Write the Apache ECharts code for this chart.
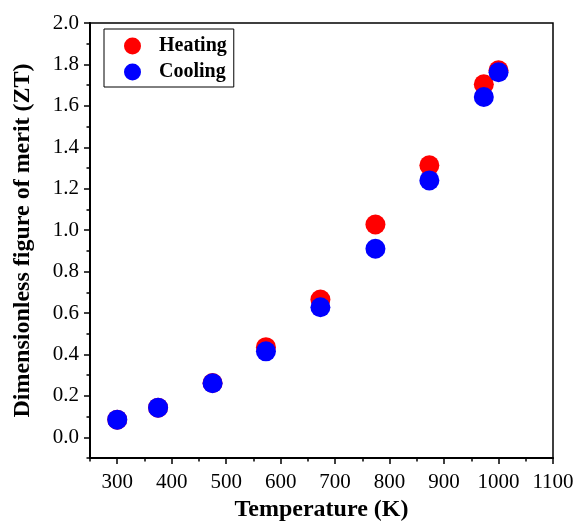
<!DOCTYPE html>
<html>
<head>
<meta charset="utf-8">
<script src="https://cdn.jsdelivr.net/npm/echarts@6/dist/echarts.min.js"></script>
<style>
  html, body { margin: 0; padding: 0; background: #fff; }
  #chartContainer { width: 578px; height: 521px; }
</style>
</head>
<body>
<div id="chartContainer"></div>
<script>
// temperatures (K) and ZT values
var heatingT = [300, 375, 475, 573, 673, 774, 873, 973, 1000];
var heatingZT = [0.085, 0.143, 0.262, 0.435, 0.665, 1.027, 1.313, 1.704, 1.772];
var coolingT = [300, 375, 475, 573, 673, 774, 873, 973, 1000];
var coolingZT = [0.085, 0.143, 0.261, 0.415, 0.628, 0.910, 1.240, 1.643, 1.762];

var xMajorTicks = [300, 400, 500, 600, 700, 800, 900, 1000, 1100];
var xMinorTicks = [250, 350, 450, 550, 650, 750, 850, 950, 1050];
var yMajorTicks = [0, 0.2, 0.4, 0.6, 0.8, 1.0, 1.2, 1.4, 1.6, 1.8, 2.0];
var yMinorTicks = [-0.1, 0.1, 0.3, 0.5, 0.7, 0.9, 1.1, 1.3, 1.5, 1.7, 1.9];

var font = 'Liberation Serif';

function pairs(xs, ys) {
    var out = [];
    for (var i = 0; i < xs.length; i++) {
        out.push([xs[i], ys[i]]);
    }
    return out;
}

var chart = echarts.init(document.getElementById('chartContainer'), null, {renderer: 'canvas'});

var option = {
    animation: false,
    grid: {
        left: 90, top: 23, right: 25, bottom: 63,
        outerBoundsMode: 'none', containLabel: false,
        show: true, borderColor: '#000', borderWidth: 1.5
    },
    legend: {
        left: 104, top: 29,
        orient: 'vertical',
        borderColor: '#000', borderWidth: 1,
        padding: [7, 7, 5, 20],
        itemWidth: 17, itemHeight: 17, itemGap: 6,
        icon: 'circle',
        textStyle: {fontFamily: font, fontWeight: 'bold', fontSize: 20, color: '#000', padding: [0, 0, 0, 13]},
        data: ['Heating', 'Cooling']
    },
    xAxis: [
        {
            type: 'value', min: 250, max: 1100,
            name: 'Temperature (K)', nameLocation: 'middle', nameGap: 39,
            nameTextStyle: {fontFamily: font, fontWeight: 'bold', fontSize: 24, color: '#000'},
            axisLine: {onZero: false, lineStyle: {color: '#000', width: 2}},
            axisTick: {customValues: xMajorTicks, length: 6, lineStyle: {color: '#000', width: 1.5}},
            axisLabel: {
                customValues: xMajorTicks, margin: 14, fontFamily: font, fontSize: 21, color: '#000',
                formatter: function (v) { return String(v); }
            },
            splitLine: {show: false}
        },
        {
            type: 'value', min: 250, max: 1100, position: 'bottom',
            axisLine: {show: false, onZero: false},
            axisTick: {customValues: xMinorTicks, length: 3.5, lineStyle: {color: '#000', width: 1.5}},
            axisLabel: {show: false},
            splitLine: {show: false}
        }
    ],
    yAxis: [
        {
            type: 'value', min: -0.1, max: 2.0,
            name: 'Dimensionless figure of merit (ZT)', nameLocation: 'middle', nameGap: 55,
            nameTextStyle: {fontFamily: font, fontWeight: 'bold', fontSize: 24, color: '#000'},
            axisLine: {show: true, onZero: false, lineStyle: {color: '#000', width: 2}},
            axisTick: {show: true, customValues: yMajorTicks, length: 6, lineStyle: {color: '#000', width: 1.5}},
            axisLabel: {
                customValues: yMajorTicks, margin: 11, fontFamily: font, fontSize: 21, color: '#000',
                formatter: function (v) { return v.toFixed(1); }
            },
            splitLine: {show: false}
        },
        {
            type: 'value', min: -0.1, max: 2.0, position: 'left',
            axisLine: {show: false, onZero: false},
            axisTick: {show: true, customValues: yMinorTicks, length: 3.5, lineStyle: {color: '#000', width: 1.5}},
            axisLabel: {show: false},
            splitLine: {show: false}
        }
    ],
    series: [
        {
            name: 'Heating', type: 'scatter', symbol: 'circle', symbolSize: 20,
            itemStyle: {color: '#ff0000', opacity: 1},
            data: pairs(heatingT, heatingZT)
        },
        {
            name: 'Cooling', type: 'scatter', symbol: 'circle', symbolSize: 20,
            itemStyle: {color: '#0000ff', opacity: 1},
            data: pairs(coolingT, coolingZT)
        }
    ]
};

chart.setOption(option);
</script>
</body>
</html>
